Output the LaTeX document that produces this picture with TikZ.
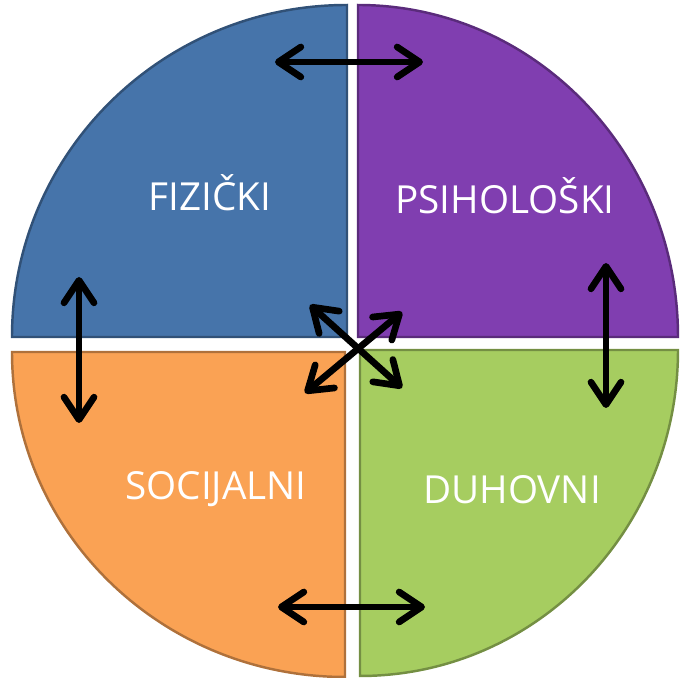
\documentclass[tikz,border=0pt]{standalone}
\usepackage{fontspec}
\setmainfont{Open Sans}
\usetikzlibrary{arrows.meta}
\definecolor{fizblue}{RGB}{70,116,170}
\definecolor{psipurple}{RGB}{128,62,176}
\definecolor{socorange}{RGB}{250,162,84}
\definecolor{duhgreen}{RGB}{166,205,96}

\begin{document}
\begin{tikzpicture}[x=0.02cm, y=0.02cm,
  quad/.style={line width=1.4pt},
  lbl/.style={text=white, font=\fontsize{22}{26}\selectfont},
  both/.style={line width=3.8pt, line cap=round,
    {Straight Barb[length=0.45cm,width=0.6cm,round]}-{Straight Barb[length=0.45cm,width=0.6cm,round]}}]
  \useasboundingbox (0,0) rectangle (681,678);

  % the four quarters
  \filldraw[quad, fill=fizblue, draw=fizblue!70!black] (347,341) -- (12,341)
    arc[start angle=180, end angle=90, x radius=335, y radius=332] -- cycle;
  \filldraw[quad, fill=psipurple, draw=psipurple!70!black] (358,341) -- (358,673)
    arc[start angle=90, end angle=0, x radius=320, y radius=332] -- cycle;
  \filldraw[quad, fill=socorange, draw=socorange!70!black] (345,326) -- (12,326)
    arc[start angle=180, end angle=270, x radius=333, y radius=325] -- cycle;
  \filldraw[quad, fill=duhgreen, draw=duhgreen!70!black] (360,328) -- (360,2)
    arc[start angle=270, end angle=360, x radius=318, y radius=326] -- cycle;

  \node[lbl] (fiz) at (210,485) {FIZIČKI};
  \node[lbl] (psi) at (505,482) {PSIHOLOŠKI};
  \node[lbl] (soc) at (216,189) {SOCIJALNI};
  \node[lbl] (duh) at (512,188) {DUHOVNI};

  % arrow ends
  \coordinate (topL) at (275,616);
  \coordinate (topR) at (423,616);
  \coordinate (botL) at (278,71);
  \coordinate (botR) at (425,71);
  \coordinate (lefU) at (79,401);
  \coordinate (lefD) at (79,255);
  \coordinate (rigU) at (606,415);
  \coordinate (rigD) at (606,270);
  \coordinate (dgUL) at (310,373);
  \coordinate (dgDR) at (402,290);
  \coordinate (dgUR) at (402,366);
  \coordinate (dgDL) at (305,285);

  \draw[both] (topL) -- (topR);
  \draw[both] (botL) -- (botR);
  \draw[both] (lefU) -- (lefD);
  \draw[both] (rigU) -- (rigD);
  \draw[both] (dgUL) -- (dgDR);
  \draw[both] (dgUR) -- (dgDL);
\end{tikzpicture}
\end{document}
